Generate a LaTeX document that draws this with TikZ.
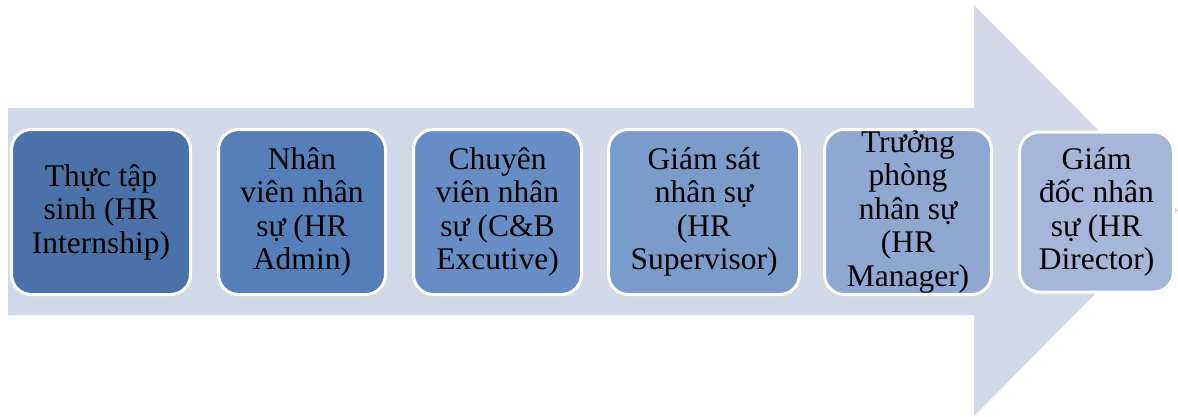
\documentclass[tikz,border=0pt]{standalone}
\usepackage{fontspec}
\setmainfont{Liberation Serif}
\definecolor{arrowbg}{HTML}{D1D9E8}
\definecolor{cA}{HTML}{4A72A9}
\definecolor{cB}{HTML}{557FB9}
\definecolor{cC}{HTML}{678EC4}
\definecolor{cD}{HTML}{7B9BCB}
\definecolor{cE}{HTML}{8FA8D1}
\definecolor{cF}{HTML}{A5B7D9}
\begin{document}
\begin{tikzpicture}[x=1pt,y=-1pt,
  stagebox/.style={draw=white, line width=3pt, rounded corners=20pt,
    minimum height=165pt, align=center, inner sep=0pt,
    font=\fontsize{31.5}{33.5}\selectfont, text=black}]
\useasboundingbox (0,0) rectangle (1178,416);
\fill[arrowbg] (8,108) -- (974,108) -- (974,5) -- (1178,210.5) -- (974,416) -- (974,315) -- (8,315) -- cycle;
\node[stagebox, fill=cA, minimum width=179pt] (s1) at (101,212) {Thực tập\\sinh (HR\\Internship)};
\node[stagebox, fill=cB, minimum width=167pt] (s2) at (302,212) {Nhân\\viên nhân\\sự (HR\\Admin)};
\node[stagebox, fill=cC, minimum width=168pt] (s3) at (497.5,212) {Chuyên\\viên nhân\\sự (C\&B\\Excutive)};
\node[stagebox, fill=cD, minimum width=191pt] (s4) at (704,212) {Giám sát\\nhân sự\\(HR\\Supervisor)};
\node[stagebox, fill=cE, minimum width=167pt] (s5) at (908,212) {Trưởng\\phòng\\nhân sự\\(HR\\Manager)};
\node[stagebox, fill=cF, minimum width=154pt, minimum height=160pt] (s6) at (1096.5,212) {Giám\\đốc nhân\\sự (HR\\Director)};
\end{tikzpicture}
\end{document}
